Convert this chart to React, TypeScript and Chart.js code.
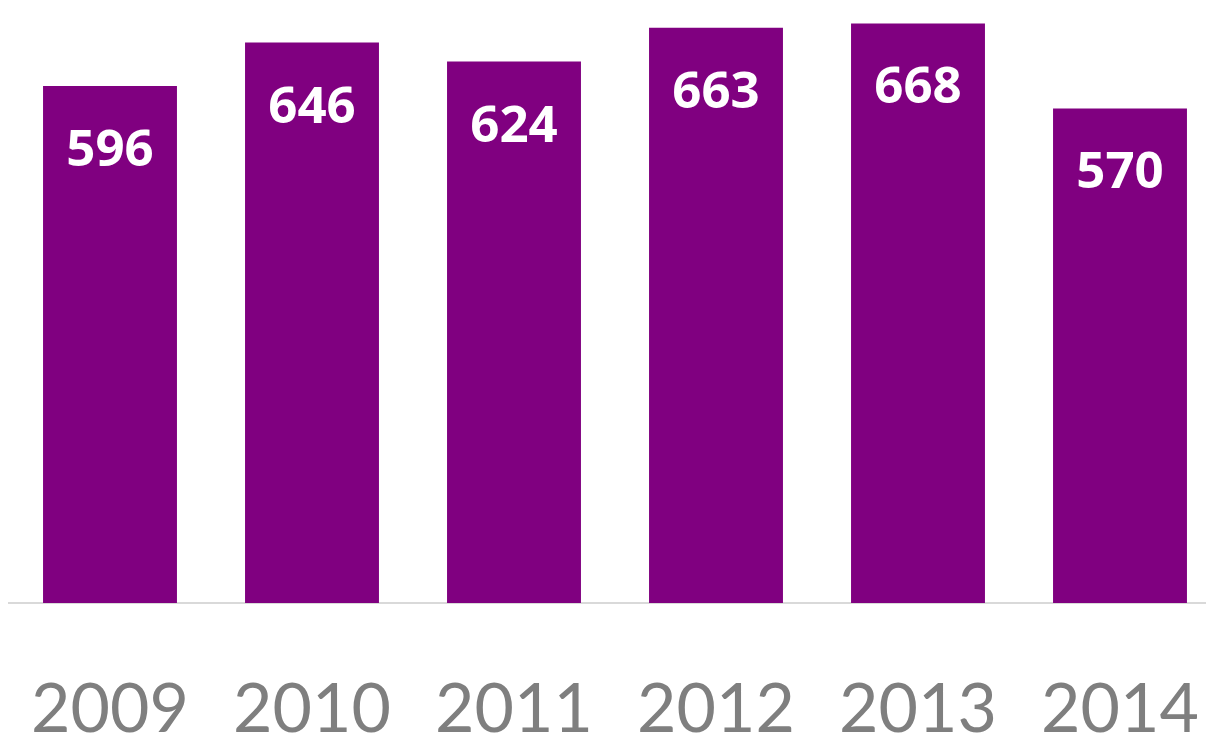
import React, { useEffect, useRef } from "react";
import { Chart, registerables } from "chart.js";

Chart.register(...registerables);

const years = ["2009", "2010", "2011", "2012", "2013", "2014"];
const values = [596, 646, 624, 663, 668, 570];
const barColor = "#800080";

const valueLabels = {
  id: "valueLabels",
  afterDatasetsDraw(chart: any) {
    const ctx = chart.ctx;
    const meta = chart.getDatasetMeta(0);
    ctx.save();
    ctx.fillStyle = "#ffffff";
    ctx.font = "bold 51px 'Open Sans'";
    ctx.textAlign = "center";
    ctx.textBaseline = "alphabetic";
    meta.data.forEach((bar: any, i: number) => {
      ctx.fillText(String(values[i]), bar.x, bar.y + 80);
    });
    ctx.restore();
  },
};

export default function App() {
  const ref = useRef<HTMLCanvasElement>(null);
  useEffect(() => {
    if (!ref.current) return;
    const chart = new Chart(ref.current, {
      type: "bar",
      data: {
        labels: years,
        datasets: [
          {
            data: values,
            backgroundColor: barColor,
            barPercentage: 0.663,
            categoryPercentage: 1,
          },
        ],
      },
      options: {
        responsive: false,
        animation: false,
        layout: { padding: { left: 9, right: 9, top: 0, bottom: 0 } },
        plugins: { legend: { display: false }, tooltip: { enabled: false } },
        scales: {
          x: {
            grid: {
              display: true,
              drawOnChartArea: false,
              drawTicks: true,
              tickLength: 81,
              color: "rgba(0,0,0,0)",
            },
            border: { display: true, color: "#d9d9d9", width: 2 },
            ticks: {
              color: "#7f7f7f",
              font: { family: "Lato", size: 68, lineHeight: 52 / 68 },
              padding: 0,
              maxRotation: 0,
            },
          },
          y: {
            display: false,
            min: 0,
            max: 695,
          },
        },
      },
      plugins: [valueLabels],
    });
    return () => chart.destroy();
  }, []);
  return (
    <div style={{ position: "fixed", left: 0, top: 0, width: 1206, height: 736, overflow: "hidden", background: "#fff" }}>
      <canvas ref={ref} width={1230} height={736} style={{ display: "block" }} />
    </div>
  );
}
